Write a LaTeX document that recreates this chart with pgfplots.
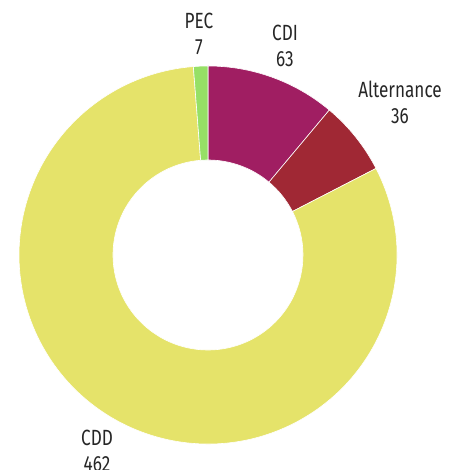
\documentclass[border=0pt]{standalone}
\usepackage{pgfplots}
\usepackage{pgfplotstable}
\pgfplotsset{compat=1.18}
\usetikzlibrary{calc}
\usepackage{fontspec}
\setmainfont{Fira Sans}[FakeStretch=0.78]
\definecolor{cCDI}{HTML}{A01E62}
\definecolor{cALT}{HTML}{A02834}
\definecolor{cCDD}{HTML}{E5E36A}
\definecolor{cPEC}{HTML}{96E066}
\pgfplotstableread{
label value
CDI 63
Alternance 36
CDD 462
PEC 7
}\data
\newcommand\donutwedge[3]{%
  \fill[#1, draw=white, line width=0.6pt]
    ($(axis cs:208,215)+(#2:\R)$) arc[start angle=#2, end angle=#3, radius=\R]
    -- ($(axis cs:208,215)+(#3:\r)$) arc[start angle=#3, end angle=#2, radius=\r] -- cycle;}
\begin{document}
\begin{tikzpicture}
\pgfplotstablegetelem{0}{value}\of\data \let\vA\pgfplotsretval
\pgfplotstablegetelem{1}{value}\of\data \let\vB\pgfplotsretval
\pgfplotstablegetelem{2}{value}\of\data \let\vC\pgfplotsretval
\pgfplotstablegetelem{3}{value}\of\data \let\vD\pgfplotsretval
\pgfmathsetmacro\tot{\vA+\vB+\vC+\vD}
\pgfmathsetmacro\aA{90}
\pgfmathsetmacro\aB{\aA-\vA/\tot*360}
\pgfmathsetmacro\aC{\aB-\vB/\tot*360}
\pgfmathsetmacro\aD{\aC-\vC/\tot*360}
\pgfmathsetmacro\aE{\aD-\vD/\tot*360}
\def\R{189pt}
\def\r{95pt}
\begin{axis}[
  width=452pt, height=470pt, scale only axis,
  xmin=0, xmax=452, ymin=0, ymax=470,
  hide axis, clip=true,
]
\addplot[draw=none] coordinates {(0,0) (452,470)};
\donutwedge{cCDI}{\aA}{\aB}
\donutwedge{cALT}{\aB}{\aC}
\donutwedge{cCDD}{\aC}{\aD}
\donutwedge{cPEC}{\aD}{\aE}
\tikzset{lab/.style={align=center, font=\fontsize{22}{26}\selectfont, text=black!85}}
\node[lab] at (axis cs:199,436) {PEC\\\vD};
\node[lab] at (axis cs:285,424) {CDI\\\vA};
\node[lab] at (axis cs:400,368) {Alternance\\\vB};
\node[lab] at (axis cs:97,19) {CDD\\\vC};
\end{axis}
\useasboundingbox (0,0) rectangle (452pt,470pt);
\end{tikzpicture}
\end{document}
